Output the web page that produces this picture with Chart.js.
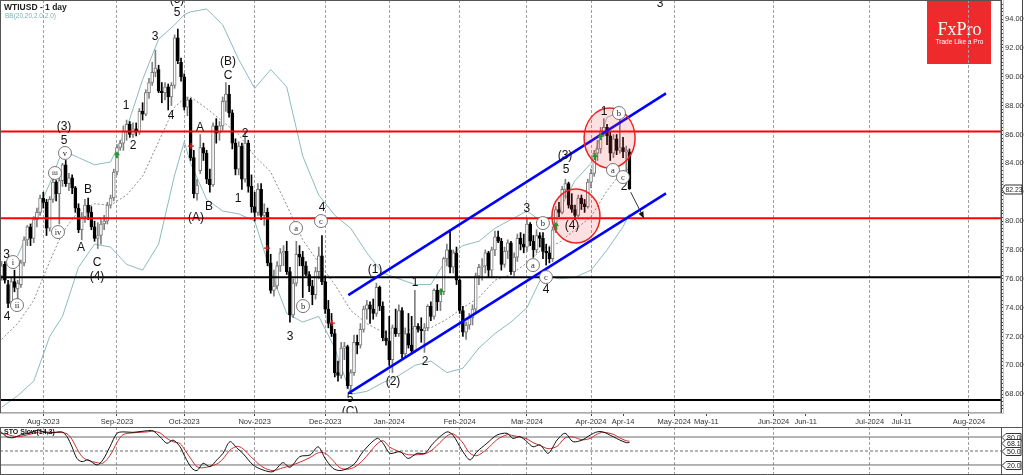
<!DOCTYPE html>
<html><head><meta charset="utf-8">
<script src="https://cdn.jsdelivr.net/npm/chart.js"></script>
<style>
html,body{margin:0;padding:0;background:#fff;width:1024px;height:475px;overflow:hidden}
#main{position:absolute;left:0;top:0}
#sto{position:absolute;left:0;top:427px}
</style></head><body>
<canvas id="main" width="1024" height="427"></canvas>
<canvas id="sto" width="1024" height="48"></canvas>
<script>
// ---------- DATA ----------
const dates = [].concat(
  ['13','14','17','18','19','20','21','24','25','26','27','28','31'].map(d=>'2023-07-'+d),
  ['01','02','03','04','07','08','09','10','11','14','15','16','17','18','21','22','23','24','25','28','29','30','31'].map(d=>'2023-08-'+d),
  ['01','04','05','06','07','08','11','12','13','14','15','18','19','20','21','22','25','26','27','28','29'].map(d=>'2023-09-'+d),
  ['02','03','04','05','06','09','10','11','12','13','16','17','18','19','20','23','24','25','26','27','30','31'].map(d=>'2023-10-'+d),
  ['01','02','03','06','07','08','09','10','13','14','15','16','17','20','21','22','23','24','27','28','29','30'].map(d=>'2023-11-'+d),
  ['01','04','05','06','07','08','11','12','13','14','15','18','19','20','21','22','26','27','28','29'].map(d=>'2023-12-'+d),
  ['02','03','04','05','08','09','10','11','12','15','16','17','18','19','22','23','24','25','26','29','30','31'].map(d=>'2024-01-'+d),
  ['01','02','05','06','07','08','09','12','13','14','15','16','19','20','21','22','23','26','27','28','29'].map(d=>'2024-02-'+d),
  ['01','04','05','06','07','08','11','12','13','14','15','18','19','20','21','22','25','26','27','28'].map(d=>'2024-03-'+d),
  ['01','02','03','04','05','08','09','10','11','12','15','16','17'].map(d=>'2024-04-'+d)
);
const opens = [76.2,77.0,75.6,74.4,75.8,75.3,75.6,77.1,78.7,79.6,78.8,80.1,80.6,
81.6,81.3,79.5,81.5,82.7,81.9,82.8,83.9,82.6,83.0,82.3,80.9,79.4,80.3,81.1,80.6,79.6,78.8,79.0,79.8,80.0,81.1,81.6,
83.4,85.1,85.4,86.2,86.7,86.0,86.4,86.2,87.6,87.4,88.9,89.6,90.3,90.5,89.0,88.9,89.3,88.6,89.4,92.7,91.0,
90.0,87.9,88.4,84.4,81.9,83.5,85.1,84.7,82.9,82.5,86.6,86.1,86.6,88.3,88.8,87.5,85.4,83.6,85.2,82.9,85.4,82.4,
81.0,80.6,82.2,80.4,80.6,77.1,75.2,75.5,76.9,77.8,77.9,76.5,73.5,75.7,77.7,77.5,76.9,76.3,75.5,74.9,76.5,77.6,
75.8,73.9,72.9,72.2,69.5,69.3,71.2,71.3,68.6,69.5,71.6,71.4,72.5,73.9,74.2,73.9,73.6,75.4,74.1,71.9,
71.7,70.4,72.6,72.2,73.8,70.8,72.2,71.4,71.0,72.7,72.5,72.4,72.6,74.1,73.4,75.2,74.4,75.1,77.4,78.0,76.8,77.8,
75.9,73.8,72.3,72.8,73.3,73.9,76.2,76.8,76.9,77.8,76.6,78.0,78.9,78.6,77.0,77.9,78.5,76.5,77.5,78.8,78.4,
78.2,79.8,78.6,78.0,79.0,78.8,77.9,77.8,77.4,79.4,80.8,80.6,82.2,82.6,81.1,80.8,80.4,81.6,81.2,81.0,
82.7,83.3,84.7,85.0,86.2,86.5,85.9,84.7,85.7,84.9,85.1,84.8,84.8];
const highs = [77.2,77.2,75.9,76.1,76.6,75.9,77.3,78.9,79.7,79.8,80.3,80.9,81.8,
82.0,81.5,81.7,82.9,82.8,83.0,84.0,84.2,83.3,83.2,82.4,81.2,80.6,81.5,81.6,81.0,80.0,79.9,80.1,80.4,81.3,81.8,83.6,
85.3,85.6,86.6,87.0,86.9,86.8,86.8,87.8,88.2,89.1,89.9,91.0,91.85,90.8,89.6,89.6,89.5,89.6,92.9,93.3,91.3,
90.2,88.6,88.5,84.9,82.9,86.0,85.4,84.9,83.6,86.8,87.1,86.9,88.6,89.6,89.4,87.7,85.7,85.5,85.4,86.2,85.6,83.2,
82.0,82.6,82.6,81.2,80.9,77.7,76.6,77.2,78.1,78.3,78.6,76.8,76.0,78.6,78.3,77.9,77.2,76.5,75.9,76.8,78.2,79.0,
76.2,74.5,73.6,72.5,70.3,71.6,71.6,71.4,69.7,72.1,72.1,72.9,74.1,74.5,74.4,74.6,75.7,75.5,74.4,72.4,
73.4,72.8,73.9,74.2,74.0,72.6,73.6,73.4,75.2,72.9,73.3,72.9,74.2,74.4,75.3,75.6,75.3,77.5,78.4,79.4,78.0,78.2,
76.0,74.1,73.0,73.6,74.2,76.4,77.0,77.4,78.0,77.9,78.2,79.3,79.3,78.8,78.2,78.7,78.6,77.8,79.1,79.2,79.1,
80.2,79.9,79.0,79.4,79.2,79.2,78.4,78.2,79.6,81.0,81.3,82.4,82.9,82.7,81.9,81.1,81.8,81.8,81.5,82.9,
83.6,84.9,85.6,86.5,87.1,86.7,86.2,86.0,86.0,87.1,85.8,85.2,85.0];
const lows = [75.9,75.7,74.0,74.2,75.1,74.6,75.4,76.9,78.3,78.3,78.5,79.6,80.4,
80.9,79.0,79.3,81.3,81.4,79.8,82.4,82.4,82.1,81.9,80.6,79.2,78.7,79.9,80.1,79.4,78.6,78.1,78.4,79.4,79.8,80.9,81.4,
83.2,84.9,84.9,85.6,85.8,85.8,85.9,86.0,87.0,87.3,88.5,89.4,90.0,88.9,88.2,88.4,87.7,88.0,89.2,90.9,89.7,
87.7,87.3,84.2,81.6,81.45,83.3,84.2,82.6,82.0,82.4,85.4,85.6,86.3,87.6,87.2,85.0,83.2,83.2,82.2,82.7,82.0,80.6,
80.0,80.4,80.1,79.7,76.9,75.0,74.8,75.3,76.5,76.9,76.3,73.0,73.3,75.5,76.9,74.7,76.2,75.1,74.2,74.6,76.0,75.6,
73.6,72.6,72.0,69.2,68.9,69.1,70.4,68.4,68.1,69.3,70.8,71.2,72.3,73.2,72.9,73.2,73.4,73.8,71.7,71.4,
70.0,69.5,72.0,72.0,70.5,70.6,71.2,70.8,70.9,72.3,71.6,70.9,72.4,73.1,73.2,73.8,73.8,74.9,76.9,76.4,76.4,75.6,
73.6,72.0,71.8,72.5,72.8,73.6,75.6,75.9,76.4,76.1,76.1,77.6,78.5,76.6,76.8,77.4,76.3,76.2,77.2,78.0,77.8,
77.9,78.3,77.5,77.8,78.2,77.4,76.95,77.1,77.2,79.2,80.3,80.5,81.6,80.9,80.6,80.1,80.3,80.8,80.6,80.9,
82.3,83.1,84.2,84.7,85.9,85.3,84.2,84.4,84.6,84.7,84.4,83.4,82.2];
const closes = [76.9,75.9,74.3,75.8,75.4,75.7,77.1,78.7,79.6,78.8,80.1,80.6,81.6,
81.3,79.5,81.5,82.7,81.9,82.8,83.9,82.6,83.0,82.3,80.9,79.4,80.3,81.1,80.6,79.6,78.8,79.0,79.8,80.0,81.1,81.6,83.4,
85.1,85.4,86.2,86.7,86.0,86.4,86.2,87.6,87.4,88.9,89.6,90.3,90.6,89.0,88.9,89.3,88.6,89.4,92.7,91.1,90.0,
87.9,88.4,84.4,81.9,82.5,85.1,84.7,82.9,82.5,86.6,86.1,86.6,88.3,88.8,87.5,85.4,83.6,85.2,82.9,85.4,82.4,81.0,
80.6,82.2,80.4,80.6,77.1,75.2,75.5,76.9,77.8,77.9,76.5,73.5,75.7,77.7,77.5,76.9,76.3,75.5,74.9,76.5,77.6,75.8,
73.9,72.9,72.2,69.5,69.3,71.2,71.3,68.6,69.5,71.6,71.4,72.5,73.9,74.2,73.9,73.6,75.4,74.1,71.9,71.7,
70.4,72.6,72.2,73.8,70.8,72.2,71.4,71.0,72.7,72.5,72.4,72.6,74.1,73.4,75.2,74.4,75.1,77.4,78.0,76.8,77.8,75.9,
73.8,72.3,72.8,73.3,73.9,76.2,76.8,76.9,77.8,76.6,78.0,78.9,78.6,77.0,77.9,78.5,76.5,77.5,78.8,78.4,78.2,
79.8,78.6,78.0,79.0,78.8,77.9,77.8,77.4,79.4,80.8,80.6,82.2,82.6,81.1,80.8,80.4,81.6,81.2,81.0,82.7,
83.3,84.7,85.0,86.2,86.5,85.9,84.7,85.7,84.9,85.1,84.8,84.9,82.23];

// Bollinger bands (bar index, price)
const bbX      = [0,5,10,15,19,24,29,34,39,44,49,54,57,59,64,69,74,79,84,89,94,99,104,109,114,119,124,129,134,139,144,149,154,159,164,169,174,179,184,189,194,196];
const bbUpper  = [76.8,77.6,80.1,82.6,84.9,84.4,83.9,84.1,86.4,89.8,92.6,93.6,94.3,94.5,94.7,93.6,91.2,89.2,90.5,89.3,84.5,81.8,80.4,79.5,77.8,76.4,76.0,75.6,75.6,77.4,78.3,78.6,79.5,80.1,80.7,79.9,80.7,82.8,84.0,87.2,87.6,87.2];
const bbMiddle = [71.8,72.9,74.5,77.2,79.2,80.7,81.2,81.1,81.8,83.1,85.5,87.9,88.5,88.6,87.8,86.9,86.0,84.5,83.4,81.1,78.7,77.1,75.6,73.8,72.9,72.3,72.2,72.6,72.6,73.2,74.0,74.7,75.9,76.3,77.1,78.1,78.5,79.4,80.3,82.1,83.5,83.6];
const bbLower  = [67.1,67.9,68.9,72.0,73.4,76.8,78.4,78.2,77.0,76.6,78.4,83.2,85.5,84.0,81.5,80.7,80.5,80.0,76.5,73.6,73.0,73.4,71.2,68.0,68.2,68.8,69.3,70.0,70.3,69.5,69.8,71.2,72.2,73.0,74.0,76.3,76.0,76.1,76.6,78.0,79.6,80.5];

// horizontal levels and channel
const redLevels = [86.2, 80.2];
const blackLevels = [76.1, 67.6];
const channelX = [108.22, 207.4];
const channelUpper = [74.87, 88.85];
const channelLower = [68.06, 81.92];
const lastPrice = 82.23;

// time axis ticks (bar index positions)
const tickPos = [13,36,57,79,101,121,143,164,184,194,210,220,241,251,271,281,302];
const tickLabels = ['Aug-2023','Sep-2023','Oct-2023','Nov-2023','Dec-2023','Jan-2024','Feb-2024','Mar-2024','Apr-2024','Apr-14','May-2024','May-11','Jun-2024','Jun-11','Jul-2024','Jul-11','Aug-2024'];
const gridPos = [13,36,57,79,101,121,143,164,184,210,241,271,302];

// Elliott wave labels: [text, bar index, price]
const waveLabels = [
 ['3',1.5,77.64],['4',1.67,73.35],['(3)',19.46,86.52],['5',19.46,85.55],
 ['A',24.77,78.13],['B',26.95,82.15],['C',29.76,77.09],['(4)',29.76,76.12],
 ['1',38.82,87.97],['2',41.0,85.2],['3',47.87,92.75],['4',52.87,87.28],['5',54.74,94.42],['(5)',54.74,95.32],
 ['A',61.92,86.45],['B',64.73,80.97],['(A)',60.67,80.21],['(B)',70.66,91.02],['C',70.66,90.05],
 ['1',73.78,81.53],['2',75.97,86.03],['3',90.02,71.96],['4',100.0,80.9],
 ['5',108.75,67.67],['(C)',108.75,66.77],
 ['(1)',116.55,76.61],['(2)',122.17,68.85],['1',129.04,75.71],['2',132.16,70.23],
 ['3',164.0,80.83],['4',169.94,75.23],['(3)',175.87,84.51],['5',176.19,83.54],['(4)',178.06,79.71],
 ['1',188.05,87.56],['2',194.29,82.36],['3',205.53,95.04]
];
const circledLabels = [
 ['i',3.54,77.16],['ii',4.79,74.18],['iii',16.65,83.33],['iv',17.59,79.24],['v',19.77,84.72],
 ['a',91.9,79.52],['b',94.08,74.11],['c',99.7,80.0],
 ['a',165.88,76.95],['b',169.0,79.86],['c',169.94,76.12],
 ['a',190.86,83.54],['b',192.73,87.49],['c',193.98,83.05]
];
const buySignals = [[36.0,84.57],[137.2,75.08],[173.06,79.66],[185.24,84.44],[187.1,85.82]];
const sellSignals = [[59.1,85.2],[82.84,78.13],[103.13,72.93]];
// highlight ellipses: [bar index, price, rx px, ry px]
const highlights = [[189.8,85.75,25.5,30],[179.3,80.35,24,27]];
const projArrow = [[196.4,82.0],[200.5,80.2]];

// Stochastic slow (14,3)
const stochX = [-0.5,1.57,3.54,5.72,8.85,11.34,12.9,15.1,18.8,20.4,21.96,23.5,25.1,26.95,29.8,31.6,33.8,36.0,37.9,41.0,45.4,47.2,49.4,51.6,53.5,55.7,57.2,59.4,61.0,62.9,65.0,67.2,69.1,71.3,73.5,75.3,78.5,81.6,84.7,87.8,90.0,93.1,96.3,98.8,101.0,103.4,105.6,108.1,110.3,112.8,117.2,119.1,121.2,124.4,126.9,129.7,132.2,134.7,139.0,140.9,143.7,146.2,148.4,151.5,154.6,157.8,159.6,161.8,164.0,165.9,168.1,170.6,173.4,175.9,178.4,181.2,183.7,185.9,187.7,190.9,193.0,195.0,196.0];
const stochK = [93.5,80.7,78.5,84,89,95,91,88.5,91,80.7,59,34,27,31,20,31,59,88,91,90,93.5,93.5,80.7,66.5,73.5,59,38,13,8,23.6,16.4,31,45,70,56,45,20,9.3,5.7,25,15,38,41.5,59,34,13,8,13,23.6,48.5,77,66.5,45,48.5,34,45,45,66.5,91,84,52,31,48.5,66.5,84,88,77,80.7,70,59,63,45,73.5,88,70,73.5,84,91,91,80.7,73.5,68,68.1];
const stochD = [88,86,82,81,86,90,92,90,89.5,87,75,55,38,30,25,24,40,68,85,89,91,92.5,89,77,70,66,52,30,16,14,17,22,33,52,60,55,33,15,8,14,18,26,36,46,45,30,14,11,16,30,65,72,58,48,42,42,44,54,82,87,70,45,40,54,74,85,83,80,76,68,62,55,60,78,80,74,77,86,90,86,78,72,71];
const stochLevels = [80, 50, 20];
const stochTags = [80.0, 68.1, 50.0, 20.0];

// ---------- LAYOUT ----------
const X_MIN = -0.52, X_MAX = 312.0, Y_MIN = 66.70, Y_MAX = 95.32;
const FONT = '"Liberation Sans", Arial, Helvetica, sans-serif';
Chart.defaults.font.family = FONT;

const lineSet = (xs, ys, color, width, order, dash) => ({
  type:'line', data: xs.map((x,i)=>({x, y:ys[i]})), borderColor:color, borderWidth:width,
  pointRadius:0, borderDash: dash || [], order, fill:false, tension:0
});

function gridColor(ctx){ return (ctx.tick && gridPos.includes(ctx.tick.value)) ? '#a0a0a0' : 'rgba(0,0,0,0)'; }

const mainOverlay = {
  id:'mainOverlay',
  beforeDraw(chart){
    const c = chart.ctx;
    c.save();
    c.fillStyle = '#fff'; c.fillRect(0,0,chart.width,chart.height);
    c.fillStyle = '#ee2a2d'; c.fillRect(927,0,64,64);
    c.fillStyle = '#fff'; c.textAlign = 'center'; c.textBaseline = 'alphabetic';
    c.font = '18px "Liberation Serif", "DejaVu Serif", serif';
    c.fillText('FxPro', 959.5, 35);
    c.font = '6.5px ' + FONT;
    c.fillText('Trade Like a Pro', 959.5, 43.5);
    c.restore();
  },
  afterDatasetsDraw(chart){
    const c = chart.ctx, xs = chart.scales.x, ys = chart.scales.y, a = chart.chartArea;
    const px = v => xs.getPixelForValue(v), py = v => ys.getPixelForValue(v);
    c.save();
    c.beginPath(); c.rect(a.left, a.top, a.right-a.left, a.bottom-a.top); c.clip();
    highlights.forEach(h => {
      c.beginPath(); c.ellipse(px(h[0]), py(h[1]), h[2], h[3], 0, 0, Math.PI*2);
      c.fillStyle = 'rgba(255,60,60,0.16)'; c.fill();
      c.lineWidth = 1.5; c.strokeStyle = '#ee2222'; c.stroke();
    });
    const x0 = px(projArrow[0][0]), y0 = py(projArrow[0][1]), x1 = px(projArrow[1][0]), y1 = py(projArrow[1][1]);
    c.strokeStyle = '#333'; c.lineWidth = 1;
    c.beginPath(); c.moveTo(x0,y0); c.lineTo(x1,y1); c.stroke();
    const ang = Math.atan2(y1-y0, x1-x0);
    c.fillStyle = '#111'; c.beginPath(); c.moveTo(x1,y1);
    c.lineTo(x1-7*Math.cos(ang-0.4), y1-7*Math.sin(ang-0.4));
    c.lineTo(x1-7*Math.cos(ang+0.4), y1-7*Math.sin(ang+0.4));
    c.closePath(); c.fill();
    buySignals.forEach(s => {
      const x = px(s[0]), y = py(s[1]);
      c.fillStyle = '#1f9a2a';
      c.beginPath(); c.moveTo(x, y-4); c.lineTo(x-3, y); c.lineTo(x+3, y); c.closePath(); c.fill();
      c.fillRect(x-1, y, 2, 3);
    });
    sellSignals.forEach(s => {
      const x = px(s[0]), y = py(s[1]);
      c.strokeStyle = '#d42020'; c.lineWidth = 1.3;
      c.beginPath(); c.moveTo(x-3,y); c.lineTo(x+3,y); c.moveTo(x,y-3); c.lineTo(x,y+3); c.stroke();
    });
    c.textAlign = 'center'; c.textBaseline = 'middle';
    c.fillStyle = '#111'; c.font = '12px ' + FONT;
    waveLabels.forEach(l => c.fillText(l[0], px(l[1]), py(l[2])));
    circledLabels.forEach(l => {
      const x = px(l[1]), y = py(l[2]);
      c.beginPath(); c.arc(x, y, 6.5, 0, Math.PI*2);
      c.fillStyle = '#fff'; c.fill(); c.lineWidth = 0.8; c.strokeStyle = '#555'; c.stroke();
      c.fillStyle = '#222'; c.font = (l[0].length > 2 ? '7px ' : '8.5px ') + '"Liberation Serif", serif';
      c.fillText(l[0], x, y + 0.5);
    });
    c.restore();
  },
  afterDraw(chart){
    const c = chart.ctx, a = chart.chartArea, ys = chart.scales.y;
    c.save();
    c.strokeStyle = '#555'; c.lineWidth = 1;
    c.strokeRect(a.left + 0.5, a.top + 0.5, a.right - a.left - 0.5, a.bottom - a.top - 0.5);
    c.strokeStyle = '#c8c8c8';
    c.beginPath(); c.moveTo(a.right + 2.5, 0); c.lineTo(a.right + 2.5, a.bottom + 0.5); c.lineTo(0, a.bottom + 0.5); c.stroke();
    c.strokeStyle = '#444';
    c.beginPath(); c.moveTo(1022.5, 0); c.lineTo(1022.5, chart.height); c.stroke();
    c.textAlign = 'left'; c.textBaseline = 'alphabetic';
    c.fillStyle = '#222'; c.font = 'bold 8.5px ' + FONT; c.fillText('WTIUSD - 1 day', 4, 10);
    c.fillStyle = '#7fb1b1'; c.font = '6.5px ' + FONT; c.fillText('BB(20,20,2.0,2.0)', 5, 18);
    const y = Math.round(ys.getPixelForValue(lastPrice)) + 0.5;
    c.beginPath(); c.moveTo(a.right + 1, y); c.lineTo(a.right + 4, y - 4.5); c.lineTo(1022, y - 4.5);
    c.lineTo(1022, y + 4.5); c.lineTo(a.right + 4, y + 4.5); c.closePath();
    c.fillStyle = '#fff'; c.fill(); c.strokeStyle = '#333'; c.stroke();
    c.fillStyle = '#222'; c.font = '6.8px ' + FONT; c.textBaseline = 'middle';
    c.fillText(lastPrice.toFixed(2), a.right + 4.5, y + 0.5);
    c.restore();
  }
};

const yTicks = [];
for (let v = 67; v <= 95.001; v += 0.25) yTicks.push(Math.round(v * 100) / 100);

new Chart(document.getElementById('main'), {
  type:'bar',
  data:{ datasets:[
    lineSet(bbX, bbUpper, '#8dbcbc', 1, 60),
    lineSet(bbX, bbLower, '#8dbcbc', 1, 60),
    lineSet(bbX, bbMiddle, '#8c8c8c', 1, 59, [2,2]),
    { type:'bar', label:'wick', grouped:false, barThickness:1, order:40,
      data: closes.map((c,i)=>({x:i, y:[lows[i], highs[i]]})),
      backgroundColor: ctx => closes[ctx.dataIndex] >= opens[ctx.dataIndex] ? '#808080' : '#000' },
    { type:'bar', label:'body', grouped:false, barThickness:3, order:39, borderWidth:1, borderSkipped:false, minBarLength:1,
      data: closes.map((c,i)=>({x:i, y:[opens[i], c]})),
      backgroundColor: ctx => closes[ctx.dataIndex] >= opens[ctx.dataIndex] ? '#ffffff' : '#000000',
      borderColor: ctx => closes[ctx.dataIndex] >= opens[ctx.dataIndex] ? '#7a7a7a' : '#000000' },
    ...redLevels.map(l => lineSet([X_MIN, X_MAX], [l, l], '#ff0000', 2, 30)),
    ...blackLevels.map(l => lineSet([X_MIN, X_MAX], [l, l], '#000000', 2, 30)),
    lineSet(channelX, channelUpper, '#0000ff', 2.5, 20),
    lineSet(channelX, channelLower, '#0000ff', 2.5, 20)
  ]},
  options:{
    responsive:false, animation:false, devicePixelRatio:1,
    layout:{padding:0},
    plugins:{legend:{display:false}, tooltip:{enabled:false}},
    scales:{
      x:{ type:'linear', min:X_MIN, max:X_MAX, offset:false,
        afterBuildTicks: s => { s.ticks = tickPos.map(v => ({value:v})); },
        afterFit: s => { s.height = 14; s.paddingLeft = 0; s.paddingRight = 0; },
        ticks:{ autoSkip:false, maxRotation:0, minRotation:0, padding:1, color:'#333', font:{size:7.5},
          callback: v => { const k = tickPos.indexOf(v); return k >= 0 ? tickLabels[k] : ''; } },
        grid:{ offset:false, color:gridColor, lineWidth:1, drawTicks:true, tickLength:3, tickColor:'#444', tickBorderDash:[] },
        border:{ display:false, dash:[3,2] }
      },
      y:{ type:'linear', position:'right', min:Y_MIN, max:Y_MAX,
        afterBuildTicks: s => { s.ticks = yTicks.map(v => ({value:v})); },
        afterFit: s => { s.width = 23; s.paddingTop = 0; s.paddingBottom = 0; },
        ticks:{ autoSkip:false, padding:1, color:'#333', font:{size:7.5},
          callback: v => (Math.abs(v % 2) < 1e-6 ? v.toFixed(2) : '') },
        grid:{ drawOnChartArea:false, drawTicks:true, tickLength:3, color:'#444', tickColor:'#444' },
        border:{ display:true, color:'#444' }
      }
    }
  },
  plugins:[mainOverlay]
});

// ---------- STOCHASTIC PANEL ----------
const stoOverlay = {
  id:'stoOverlay',
  beforeDraw(chart){ const c = chart.ctx; c.save(); c.fillStyle = '#fff'; c.fillRect(0,0,chart.width,chart.height); c.restore(); },
  afterDraw(chart){
    const c = chart.ctx, a = chart.chartArea, ys = chart.scales.y;
    c.save();
    c.strokeStyle = '#555'; c.lineWidth = 1;
    c.beginPath(); c.moveTo(0, 0.5); c.lineTo(1023, 0.5); c.stroke();
    c.beginPath(); c.moveTo(a.right + 0.5, 0); c.lineTo(a.right + 0.5, chart.height); c.stroke();
    c.beginPath(); c.moveTo(0.5, 0); c.lineTo(0.5, chart.height); c.stroke();
    c.beginPath(); c.moveTo(1022.5, 0); c.lineTo(1022.5, chart.height); c.stroke();
    c.beginPath(); c.moveTo(0, chart.height - 0.5); c.lineTo(1023, chart.height - 0.5); c.stroke();
    c.fillStyle = '#111'; c.font = 'bold 7px ' + FONT; c.textAlign = 'left'; c.textBaseline = 'middle';
    c.fillText('STO Slow(14,3)', 4, 5);
    c.font = '7px ' + FONT;
    stochTags.forEach(t => {
      const y = Math.round(ys.getPixelForValue(t)) + 0.5;
      c.beginPath(); c.moveTo(a.right + 1, y); c.lineTo(a.right + 5, y - 4); c.lineTo(1021, y - 4);
      c.lineTo(1021, y + 4); c.lineTo(a.right + 5, y + 4); c.closePath();
      c.fillStyle = '#fff'; c.fill(); c.strokeStyle = '#333'; c.stroke();
      c.fillStyle = '#222'; c.fillText(t.toFixed(1), a.right + 6, y + 0.5);
    });
    c.restore();
  }
};

new Chart(document.getElementById('sto'), {
  type:'line',
  data:{ datasets:[
    Object.assign(lineSet(stochX, stochK, '#111111', 1, 2), {tension:0.3}),
    Object.assign(lineSet(stochX, stochD, '#c83030', 1, 3), {tension:0.3}),
    lineSet([X_MIN, X_MAX], [stochLevels[0], stochLevels[0]], '#6a6a6a', 1, 10),
    lineSet([X_MIN, X_MAX], [stochLevels[1], stochLevels[1]], '#6a6a6a', 1, 10, [3,2]),
    lineSet([X_MIN, X_MAX], [stochLevels[2], stochLevels[2]], '#6a6a6a', 1, 10)
  ]},
  options:{
    responsive:false, animation:false, devicePixelRatio:1,
    layout:{padding:0},
    plugins:{legend:{display:false}, tooltip:{enabled:false}},
    scales:{
      x:{ type:'linear', min:X_MIN, max:X_MAX, offset:false,
        afterBuildTicks: s => { s.ticks = gridPos.map(v => ({value:v})); },
        afterFit: s => { s.height = 0; s.paddingLeft = 0; s.paddingRight = 0; },
        ticks:{ display:false },
        grid:{ color:'#a0a0a0', drawTicks:false },
        border:{ display:false, dash:[3,2] }
      },
      y:{ position:'right', min:-1.5, max:101.5,
        afterFit: s => { s.width = 23; s.paddingTop = 0; s.paddingBottom = 0; },
        ticks:{ display:false },
        grid:{ display:false },
        border:{ display:true, color:'#444' }
      }
    }
  },
  plugins:[stoOverlay]
});
</script>
</body></html>
